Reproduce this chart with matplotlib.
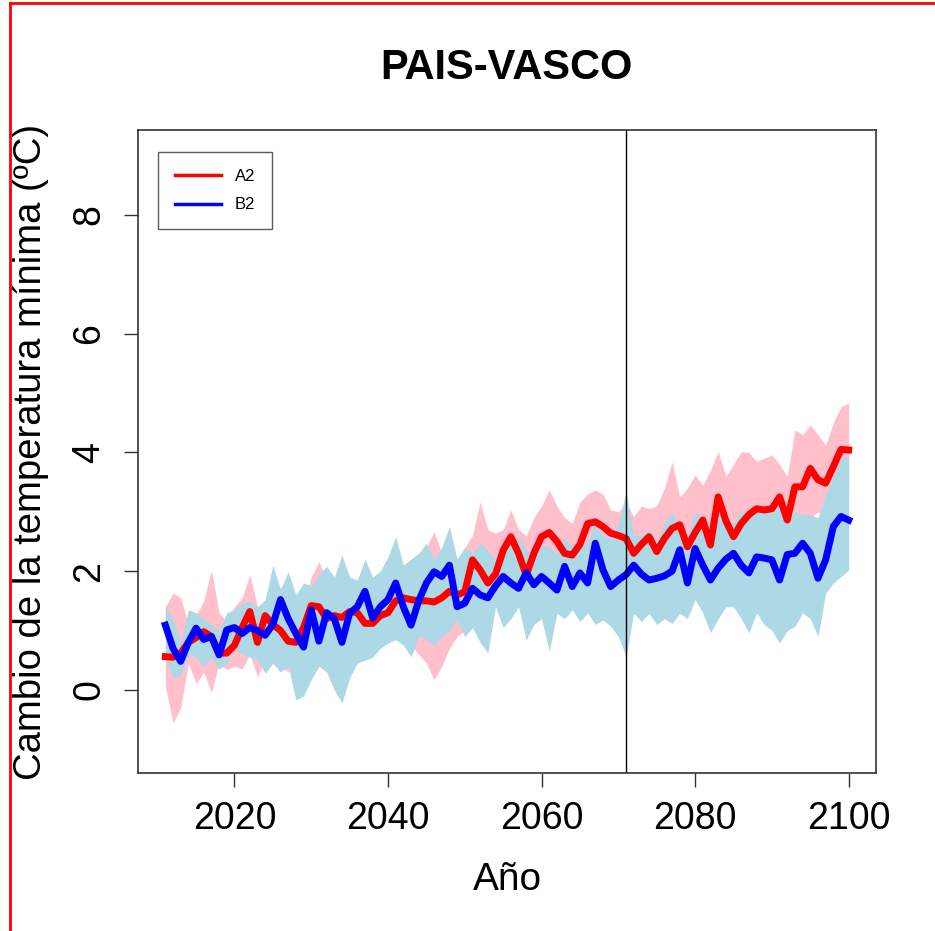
import numpy as np
import matplotlib
matplotlib.use("Agg")
import matplotlib.pyplot as plt
from matplotlib.lines import Line2D

years = np.arange(2011, 2101)

a2_mean = [
    0.56, 0.55, 0.62, 0.80, 0.88, 0.98, 0.90, 0.62, 0.62, 0.75,
    1.05, 1.32, 0.80, 1.25, 1.10, 1.00, 0.82, 0.80, 1.05, 1.42,
    1.40, 1.20, 1.25, 1.22, 1.32, 1.30, 1.12, 1.12, 1.25, 1.30,
    1.50, 1.55, 1.52, 1.50, 1.50, 1.48, 1.55, 1.66, 1.60, 1.65,
    2.19, 2.02, 1.80, 1.95, 2.35, 2.58, 2.30, 1.93, 2.30, 2.58,
    2.65, 2.50, 2.30, 2.27, 2.45, 2.80, 2.83, 2.75, 2.64, 2.60,
    2.55, 2.30, 2.45, 2.58, 2.33, 2.55, 2.72, 2.78, 2.41, 2.65,
    2.86, 2.44, 3.25, 2.85, 2.58, 2.80, 2.95, 3.05, 3.03, 3.05,
    3.25, 2.86, 3.42, 3.42, 3.73, 3.54, 3.48, 3.76, 4.05, 4.04,
]
a2_upper = [
    1.40, 1.63, 1.55, 1.10, 1.25, 1.50, 2.02, 1.30, 1.15, 1.40,
    1.55, 1.94, 1.40, 1.35, 1.50, 1.45, 1.40, 1.30, 1.50, 1.90,
    2.16, 1.85, 1.70, 1.75, 1.80, 1.70, 1.91, 1.85, 1.80, 2.00,
    2.10, 2.00, 2.20, 2.30, 2.40, 2.67, 2.30, 2.55, 2.20, 2.40,
    2.60, 3.17, 2.70, 2.64, 2.70, 3.03, 2.70, 2.60, 2.90, 3.10,
    3.37, 3.10, 2.90, 2.80, 3.17, 3.30, 3.37, 3.30, 3.03, 3.00,
    3.15, 2.92, 3.10, 3.05, 3.10, 3.40, 3.84, 3.25, 3.40, 3.62,
    3.45, 3.70, 4.01, 3.60, 3.80, 4.01, 4.00, 3.85, 3.90, 3.96,
    3.80, 3.59, 4.38, 4.30, 4.46, 4.30, 4.12, 4.50, 4.77, 4.83,
]
a2_lower = [
    0.06, -0.56, -0.30, 0.45, 0.10, 0.30, -0.05, 0.45, 0.34, 0.40,
    0.35, 0.60, 0.22, 0.50, 0.60, 0.40, 0.30, 0.40, 0.50, 0.55,
    0.70, 0.60, 0.75, 0.60, 0.70, 0.65, 0.80, 0.75, 0.85, 0.90,
    0.90, 0.80, 0.75, 0.60, 0.45, 0.17, 0.40, 0.70, 0.90, 1.00,
    1.30, 1.10, 1.20, 1.40, 1.50, 1.60, 1.50, 1.55, 1.70, 1.80,
    1.80, 1.70, 1.80, 1.90, 1.90, 2.00, 2.00, 2.10, 2.00, 1.90,
    1.90, 1.80, 1.90, 2.00, 2.00, 2.10, 2.00, 2.10, 2.10, 2.20,
    2.10, 2.20, 2.30, 2.20, 2.30, 2.40, 2.50, 2.40, 2.50, 2.50,
    2.40, 2.60, 2.70, 2.80, 2.90, 3.00, 2.90, 3.10, 3.20, 3.30,
]

b2_mean = [
    1.09, 0.70, 0.48, 0.80, 1.04, 0.85, 0.90, 0.59, 1.01, 1.05,
    0.95, 1.05, 1.00, 0.92, 1.10, 1.52, 1.20, 0.95, 0.72, 1.35,
    0.82, 1.30, 1.20, 0.80, 1.29, 1.40, 1.66, 1.21, 1.40, 1.52,
    1.80, 1.40, 1.09, 1.50, 1.80, 1.99, 1.91, 2.10, 1.40, 1.46,
    1.71, 1.60, 1.55, 1.75, 1.91, 1.80, 1.71, 1.97, 1.77, 1.91,
    1.80, 1.68, 2.08, 1.74, 1.97, 1.80, 2.47, 2.02, 1.74, 1.85,
    1.94, 2.10, 1.95, 1.85, 1.88, 1.92, 2.00, 2.36, 1.80, 2.38,
    2.10, 1.85, 2.05, 2.20, 2.30, 2.10, 1.97, 2.24, 2.22, 2.19,
    1.85, 2.28, 2.30, 2.47, 2.30, 1.88, 2.19, 2.75, 2.92, 2.86,
]
b2_upper = [
    1.40, 1.20, 0.80, 1.35, 1.30, 1.20, 1.10, 1.00, 1.30, 1.35,
    1.45, 1.50, 1.40, 1.52, 2.10, 1.70, 1.99, 1.60, 1.80, 1.75,
    1.95, 2.08, 1.90, 2.27, 1.90, 1.85, 2.20, 1.90, 2.00, 2.24,
    2.58, 2.10, 2.20, 2.30, 2.47, 2.20, 2.40, 2.75, 2.20, 2.40,
    2.30, 2.47, 2.35, 2.20, 2.45, 2.40, 2.58, 2.35, 2.30, 2.45,
    2.40, 2.30, 2.55, 2.40, 2.50, 2.45, 2.85, 2.60, 2.55, 2.80,
    3.34, 2.60, 2.60, 2.70, 2.50, 2.80, 3.00, 2.70, 2.60, 3.00,
    2.90, 2.70, 3.20, 2.90, 2.80, 3.00, 3.00, 3.00, 3.05, 3.00,
    3.10, 2.95, 3.00, 2.95, 2.95, 2.90, 3.30, 3.60, 3.90, 3.95,
]
b2_lower = [
    0.55, 0.20, 0.25, 0.60, 0.55, 0.40, 0.55, 0.35, 0.45, 0.70,
    0.60, 0.55, 0.50, 0.28, 0.45, 0.30, 0.40, -0.17, -0.10, 0.17,
    0.40, 0.30, 0.00, -0.22, 0.20, 0.45, 0.50, 0.55, 0.70, 0.79,
    0.85, 0.75, 0.56, 0.90, 0.85, 0.75, 0.90, 1.00, 1.18, 0.90,
    1.05, 0.80, 0.62, 1.40, 1.05, 1.20, 1.40, 0.84, 1.10, 1.20,
    0.65, 1.29, 1.20, 1.35, 1.15, 1.30, 1.10, 1.18, 1.07, 0.90,
    0.56, 1.29, 1.15, 1.29, 1.10, 1.20, 1.12, 1.29, 1.20, 1.52,
    1.30, 0.96, 1.20, 1.40, 1.40, 1.20, 0.96, 1.30, 1.10, 1.00,
    0.79, 1.00, 1.07, 1.30, 1.20, 0.90, 1.63, 1.80, 1.91, 2.02,
]

x_ticks = [2020, 2040, 2060, 2080, 2100]
y_ticks = [0, 2, 4, 6, 8]
split_year = 2071

plt.rcParams["font.family"] = ["Liberation Sans", "DejaVu Sans"]

fig = plt.figure(figsize=(9.35, 9.31), dpi=100)
ax = fig.add_axes([0.1476, 0.1697, 0.7893, 0.6907])

ax.fill_between(years, a2_lower, a2_upper, color="pink", lw=0)
ax.fill_between(years, b2_lower, b2_upper, color="lightblue", lw=0)
ax.plot(years, a2_mean, color="red", lw=5, solid_joinstyle="round")
ax.plot(years, b2_mean, color="blue", lw=5, solid_joinstyle="round")
ax.axvline(split_year, color="black", lw=1)

ax.set_xlim(2007.44, 2103.56)
ax.set_ylim(-1.40, 9.43)
ax.set_xticks(x_ticks)
ax.set_yticks(y_ticks)
ax.set_xticklabels([str(t) for t in x_ticks])
ax.set_yticklabels([str(t) for t in y_ticks], rotation=90, va="center")
ax.tick_params(axis="both", direction="out", length=10, width=1,
               labelsize=27, color="#333333")
ax.tick_params(axis="x", pad=10)
ax.tick_params(axis="y", pad=12)
for s in ax.spines.values():
    s.set_linewidth(1.2)
    s.set_color("#333333")

ax.set_xlabel("Año", fontsize=28, labelpad=18)
ax.set_ylabel("Cambio de la temperatura mínima (ºC)", fontsize=27.5,
              labelpad=16)
fig.text(0.542, 0.927, "PAIS-VASCO", ha="center", va="center",
         fontsize=30, fontweight="bold")

handles = [Line2D([0], [0], color="red", lw=2.5),
           Line2D([0], [0], color="blue", lw=2.5)]
leg = ax.legend(handles, ["A2", "B2"], loc="upper left", fontsize=12,
                frameon=True, fancybox=False, edgecolor="#333333",
                borderpad=1.0, handlelength=2.8, labelspacing=0.8,
                borderaxespad=0.0, bbox_to_anchor=(0.027, 0.965))
leg.get_frame().set_linewidth(1.0)

# thin red frame along the top and left edges of the image
fig.add_artist(Line2D([0.0107, 1.0], [0.9968, 0.9968], color="red", lw=2,
                      transform=fig.transFigure))
fig.add_artist(Line2D([0.0107, 0.0107], [0.0, 0.9968], color="red", lw=2,
                      transform=fig.transFigure))

fig.savefig("out.png", dpi=100)
